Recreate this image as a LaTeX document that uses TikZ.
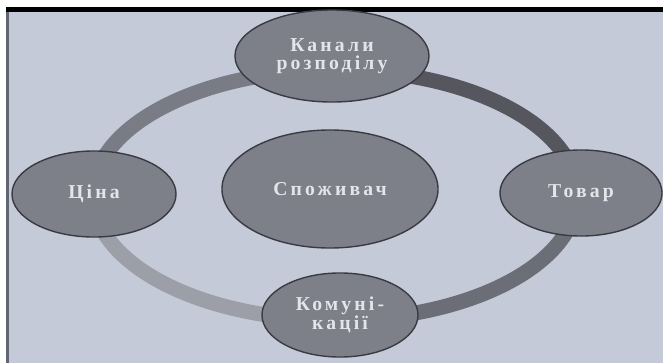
\documentclass[tikz,border=0pt]{standalone}
\usepackage{fontspec}
\usepackage{xcolor}
\usepackage{tikz}
\usetikzlibrary{shapes.geometric}
\newfontfamily\mixfont[LetterSpace=16]{Liberation Serif}
\definecolor{mxBack}{RGB}{196,202,216}
\definecolor{mxFill}{RGB}{126,128,137}
\definecolor{mxEdge}{RGB}{58,59,66}
\definecolor{mxText}{RGB}{228,229,234}
\definecolor{mxStrip}{RGB}{98,101,114}
\definecolor{mxRingA}{RGB}{85,86,94}
\definecolor{mxRingB}{RGB}{122,124,133}
\definecolor{mxRingC}{RGB}{156,159,168}
\definecolor{mxRingD}{RGB}{108,110,119}

\begin{document}
\begin{tikzpicture}[
  x=0.025cm, y=0.025cm,
  font=\mixfont\bfseries\fontsize{14}{12.5}\selectfont,
  el/.style={ellipse, draw=mxEdge, line width=1pt, fill=mxFill, text=mxText,
             align=center, inner sep=0pt},
  outer/.style={el, minimum width=4.1cm, minimum height=2.15cm},
  seg/.style={line width=0.375cm, draw=#1}
]
\useasboundingbox (0,0) rectangle (663,363);
\fill[white] (0,0) rectangle (663,363);
\fill[mxBack] (6,0) rectangle (663,356);
\fill[black] (6,351) rectangle (663,356);
\fill[mxStrip] (6,0) rectangle (9,351);

% ring behind the outer nodes
\coordinate (ring) at (335,168);
\foreach \a/\c in {0/mxRingA, 90/mxRingB, 180/mxRingC, 270/mxRingD}
  \draw[seg=\c] ([shift={(\a:6.05cm and 3.125cm)}]ring)
    arc[start angle=\a, delta angle=90, x radius=6.05cm, y radius=3.125cm];

\node[el, minimum width=4.85cm, minimum height=2.3cm] (kanal) at (332,307) {Канали\\розподілу};
\node[outer] (tsina) at (94,169) {Ціна};
\node[outer, minimum width=4.05cm] (tovar) at (581,170) {Товар};
\node[outer, minimum width=3.9cm, minimum height=2.1cm] (komun) at (340,48) {Комуні-\\кації};
\node[el, minimum width=5.4cm, minimum height=2.95cm] (spozh) at (330,174) {Споживач};

\end{tikzpicture}
\end{document}
